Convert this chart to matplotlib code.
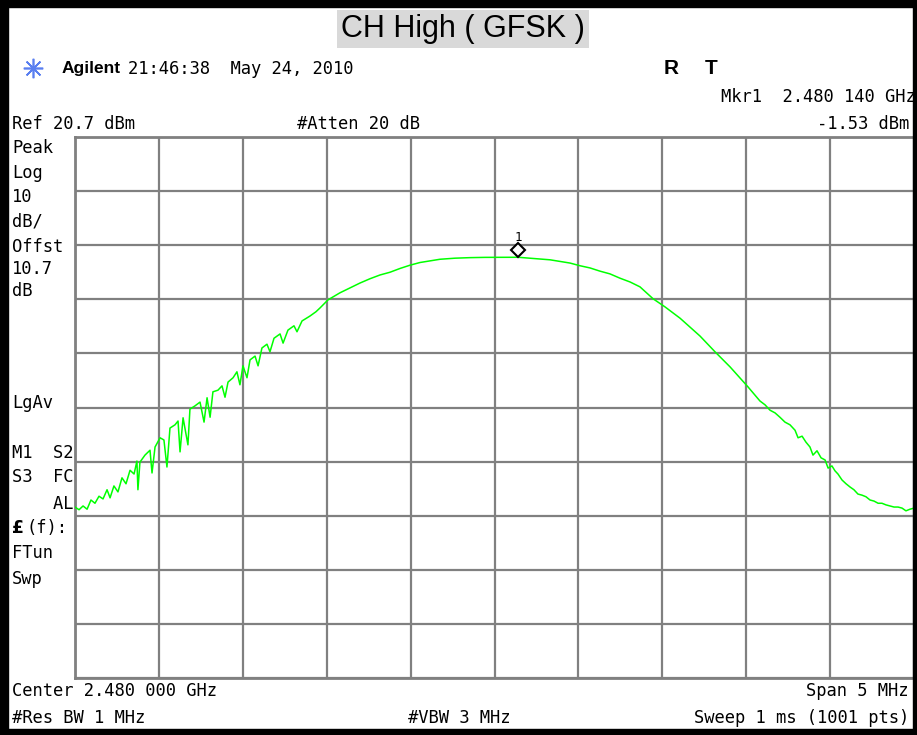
from matplotlib import pyplot as plt
from matplotlib import transforms
from matplotlib.patches import Rectangle
#*********************************************************************************************#
# data (offset from centre in MHz, level in dBm)

freq_mhz = [-2.500, -2.476, -2.452, -2.428, -2.405, -2.381, -2.357, -2.333, -2.309, -2.291,
            -2.268, -2.244, -2.220, -2.196, -2.172, -2.148, -2.131, -2.125, -2.113, -2.083,
            -2.053, -2.041, -2.023, -1.993, -1.970, -1.952, -1.934, -1.904, -1.886, -1.874,
            -1.856, -1.827, -1.815, -1.785, -1.755, -1.731, -1.713, -1.695, -1.678, -1.648,
            -1.624, -1.606, -1.588, -1.558, -1.535, -1.517, -1.499, -1.475, -1.457, -1.427,
            -1.409, -1.386, -1.356, -1.338, -1.314, -1.278, -1.260, -1.231, -1.195, -1.177,
            -1.147, -1.100, -1.064, -1.040, -0.992, -0.921, -0.861, -0.802, -0.742, -0.682,
            -0.623, -0.563, -0.504, -0.444, -0.384, -0.325, -0.235, -0.146, -0.057, 0.033,
            0.140, 0.212, 0.331, 0.450, 0.510, 0.569, 0.629, 0.688, 0.748, 0.808,
            0.867, 0.945, 1.016, 1.106, 1.225, 1.314, 1.404, 1.511, 1.582, 1.612,
            1.642, 1.672, 1.701, 1.731, 1.761, 1.791, 1.809, 1.833, 1.856, 1.880,
            1.898, 1.922, 1.946, 1.970, 1.988, 2.011, 2.029, 2.047, 2.071, 2.095,
            2.119, 2.142, 2.166, 2.190, 2.214, 2.238, 2.262, 2.286, 2.309, 2.333,
            2.357, 2.381, 2.405, 2.429, 2.452, 2.476, 2.500]

level_dbm = [-47.7, -48.2, -47.5, -48.1, -46.4, -47.0, -45.7, -46.2, -44.5, -46.0,
             -43.8, -44.9, -42.3, -43.4, -40.9, -41.6, -39.2, -44.5, -39.4, -38.1,
             -37.2, -41.4, -36.6, -34.9, -35.3, -40.3, -33.1, -32.5, -31.8, -37.5,
             -31.2, -36.2, -29.6, -29.0, -28.3, -32.0, -27.5, -31.1, -26.4, -26.1,
             -25.3, -27.4, -24.6, -23.8, -22.7, -25.1, -21.6, -23.8, -20.5, -19.8,
             -21.6, -18.3, -17.6, -19.0, -16.5, -15.7, -17.4, -15.0, -14.2, -15.3,
             -13.3, -12.4, -11.6, -10.9, -9.4, -8.1, -7.2, -6.3, -5.5, -4.8,
             -4.3, -3.6, -3.0, -2.5, -2.2, -1.9, -1.7, -1.6, -1.55, -1.54,
             -1.53, -1.7, -2.0, -2.6, -3.1, -3.5, -4.1, -4.6, -5.4, -6.1,
             -7.0, -9.2, -10.7, -12.8, -16.1, -19.0, -21.8, -25.5, -28.1, -28.8,
             -29.8, -30.3, -31.1, -32.0, -32.5, -33.5, -34.9, -34.6, -35.7, -36.6,
             -38.1, -37.3, -38.6, -39.0, -40.5, -40.1, -41.0, -41.6, -42.7, -43.4,
             -44.0, -44.5, -45.3, -45.5, -45.8, -46.4, -46.6, -47.0, -47.0, -47.3,
             -47.5, -47.7, -47.7, -47.9, -48.4, -48.1, -47.9]

mkr_freq = 0.140
mkr_level = -1.53
ref_level = 20.7
db_per_div = 10
span_mhz = 5

#*********************************************************************************************#
W, H = 917, 735
fig = plt.figure(figsize=(W/100, H/100), dpi=100)
fig.patch.set_facecolor('white')

def px(x, y):
    return x/W, 1-y/H

# black frame round the screenshot
for r in [(0, 0, 8, H), (0, 0, W, 7), (W-4, 0, 4, H), (0, H-6, W, 6)]:
    fig.add_artist(Rectangle((r[0]/W, 1-(r[1]+r[3])/H), r[2]/W, r[3]/H,
                             transform=fig.transFigure, color='black', zorder=10))

#*********************************************************************************************#
# trace area
left, right, top, bottom = 75, 914, 137, 678
ax = fig.add_axes([left/W, 1-bottom/H, (right-left)/W, (bottom-top)/H])
ax.set_xlim(-span_mhz/2, span_mhz/2)
ax.set_ylim(ref_level-10*db_per_div, ref_level)
ax.set_xticks([-2.5+0.5*i for i in range(11)])
ax.set_yticks([ref_level-db_per_div*i for i in range(11)])
ax.tick_params(length=0, labelbottom=False, labelleft=False)
ax.grid(True, color='#808080', linewidth=1.6)
for s in ax.spines.values():
    s.set_color('#808080')
    s.set_linewidth(2)

ax.plot(freq_mhz, level_dbm, color='#00ff00', linewidth=1.1, zorder=3)

# marker 1 sits a few pixels above the trace
up = transforms.offset_copy(ax.transData, fig=fig, y=7, units='dots')
ax.plot(mkr_freq, mkr_level, marker='D', ms=7, mfc='white', mec='black', mew=1.5,
        transform=up, zorder=4, clip_on=False)
up2 = transforms.offset_copy(ax.transData, fig=fig, y=20, units='dots')
ax.text(mkr_freq, mkr_level, '1', transform=up2, ha='center', va='center',
        fontsize=9, family='DejaVu Sans Mono')

#*********************************************************************************************#
# texts
mono = dict(family='DejaVu Sans Mono', fontsize=12.3, va='center')

fig.text(*px(463, 29), 'CH High ( GFSK )', ha='center', va='center', fontsize=22,
         family='Liberation Sans',
         bbox=dict(boxstyle='square,pad=0.14', fc='#d9d9d9', ec='none'))

fig.lines.append(plt.Line2D([33/W], [1-68/H], marker=(8, 2, 0), ms=14, color='#5a7ff0',
                            mew=1.2, transform=fig.transFigure))
fig.text(*px(62, 69), 'Agilent', family='Liberation Sans', fontweight='bold',
         fontsize=12.5, va='center')
fig.text(*px(128, 69), '21:46:38  May 24, 2010', **mono)
fig.text(*px(671, 68), 'R', family='Liberation Sans', fontweight='bold', fontsize=15,
         ha='center', va='center')
fig.text(*px(711, 68), 'T', family='Liberation Sans', fontweight='bold', fontsize=15,
         ha='center', va='center')
fig.text(*px(916, 97), 'Mkr1  2.480 140 GHz', ha='right', **mono)
fig.text(*px(12, 124), 'Ref 20.7 dBm', **mono)
fig.text(*px(297, 124), '#Atten 20 dB', **mono)
fig.text(*px(909, 124), '-1.53 dBm', ha='right', **mono)

side = [('Peak', 148), ('Log', 173), ('10', 197), ('dB/', 221), ('Offst', 247),
        ('10.7', 269), ('dB', 291), ('LgAv', 403), ('M1  S2', 453), ('S3  FC', 477),
        ('    AL', 504), ('FTun', 553), ('Swp', 579)]
for s, y in side:
    fig.text(*px(12, y), s, **mono)
fig.text(*px(12, 528), '£', family='DejaVu Sans', fontweight='bold', fontsize=12.3,
         va='center')
fig.text(*px(26, 528), '(f):', **mono)

fig.text(*px(12, 691), 'Center 2.480 000 GHz', **mono)
fig.text(*px(909, 691), 'Span 5 MHz', ha='right', **mono)
fig.text(*px(12, 718), '#Res BW 1 MHz', **mono)
fig.text(*px(408, 718), '#VBW 3 MHz', **mono)
fig.text(*px(909, 718), 'Sweep 1 ms (1001 pts)', ha='right', **mono)

fig.savefig('out.png', dpi=100)
